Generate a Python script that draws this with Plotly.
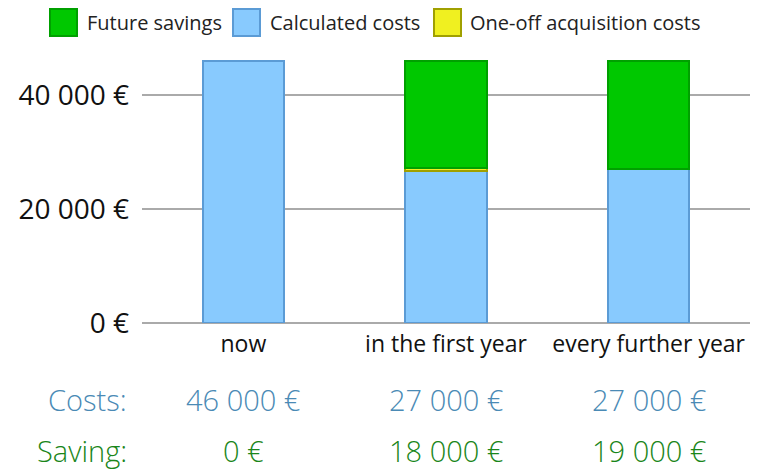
import plotly.graph_objects as go

categories = ["now", "in the first year", "every further year"]
calculated_costs = [46000, 26600, 27000]
one_off_costs = [None, 600, None]
future_savings = [None, 18800, 19000]
cost_labels = ["46 000 €", "27 000 €", "27 000 €"]
saving_labels = ["0 €", "18 000 €", "19 000 €"]
tick_vals = [0, 20000, 40000]
tick_text = ["0 €", "20 000 €", "40 000 €"]
legend_names = ["Future savings", "Calculated costs", "One-off acquisition costs"]

W, H = 763, 470
ML, MR, MT, MB = 142, 13, 38, 147
PW, PH = W - ML - MR, H - MT - MB

def px(x):
    return (x - ML) / PW

def py(y):
    return (H - MB - y) / PH

BLUE, BLUE_L = "#88CAFE", "#5B9BD5"
GREEN, GREEN_L = "#00C800", "#00A000"
YEL, YEL_L = "#F0F020", "#A0A000"
FONT = "Open Sans"
COST_C, SAVE_C = "#4A8AB5", "#1A861A"

fig = go.Figure()
fig.add_bar(x=categories, y=calculated_costs, name=legend_names[1],
            marker=dict(color=BLUE, line=dict(color=BLUE_L, width=2)), width=0.4)
fig.add_bar(x=categories, y=one_off_costs, name=legend_names[2],
            marker=dict(color=YEL, line=dict(color=YEL_L, width=2)), width=0.4)
fig.add_bar(x=categories, y=future_savings, name=legend_names[0],
            marker=dict(color=GREEN, line=dict(color=GREEN_L, width=2)), width=0.4)

shapes = []
annotations = []
leg = [(49, 85, GREEN, GREEN_L, legend_names[0]),
       (232, 268, BLUE, BLUE_L, legend_names[1]),
       (433, 468, YEL, YEL_L, legend_names[2])]
for sx, tx, fc, lc, name in leg:
    shapes.append(dict(type="rect", xref="paper", yref="paper",
                       x0=px(sx + 1), x1=px(sx + 28), y0=py(36), y1=py(9),
                       fillcolor=fc, line=dict(color=lc, width=2)))
    annotations.append(dict(text=name, xref="paper", yref="paper", x=px(tx), y=py(22),
                            xanchor="left", yanchor="middle", showarrow=False,
                            font=dict(family=FONT, size=20, color="#222222")))

bs = 29
annotations.append(dict(text="Costs:", xref="paper", yref="paper", x=px(129), y=py(399),
                        xanchor="right", yanchor="middle", showarrow=False,
                        font=dict(family=FONT, size=bs, color=COST_C, weight=300)))
annotations.append(dict(text="Saving:", xref="paper", yref="paper", x=px(129), y=py(450),
                        xanchor="right", yanchor="middle", showarrow=False,
                        font=dict(family=FONT, size=bs, color=SAVE_C, weight=300)))
for c, cl, sl in zip(categories, cost_labels, saving_labels):
    annotations.append(dict(text=cl, xref="x", yref="paper", x=c, y=py(399),
                            xanchor="center", yanchor="middle", showarrow=False,
                            font=dict(family=FONT, size=bs, color=COST_C, weight=300)))
    annotations.append(dict(text=sl, xref="x", yref="paper", x=c, y=py(450),
                            xanchor="center", yanchor="middle", showarrow=False,
                            font=dict(family=FONT, size=bs, color=SAVE_C, weight=300)))

fig.update_layout(
    width=W, height=H,
    margin=dict(l=ML, r=MR, t=MT, b=MB),
    barmode="stack",
    showlegend=False,
    plot_bgcolor="white", paper_bgcolor="white",
    font=dict(family=FONT, color="#111111"),
    shapes=shapes, annotations=annotations,
    xaxis=dict(showgrid=False, showline=False, zeroline=False,
               tickfont=dict(size=23, color="#111111"), ticklabelstandoff=5),
    yaxis=dict(range=[0, 50000], tickvals=tick_vals, ticktext=tick_text,
               showgrid=True, gridcolor="#AAAAAA", gridwidth=2,
               zeroline=True, zerolinecolor="#AAAAAA", zerolinewidth=2,
               showline=False, tickfont=dict(size=28, color="#111111"),
               ticklabelstandoff=12),
)

fig.write_html("out.html", config={"displayModeBar": False},
               post_script="document.body.style.margin='0';document.body.style.padding='0';")
